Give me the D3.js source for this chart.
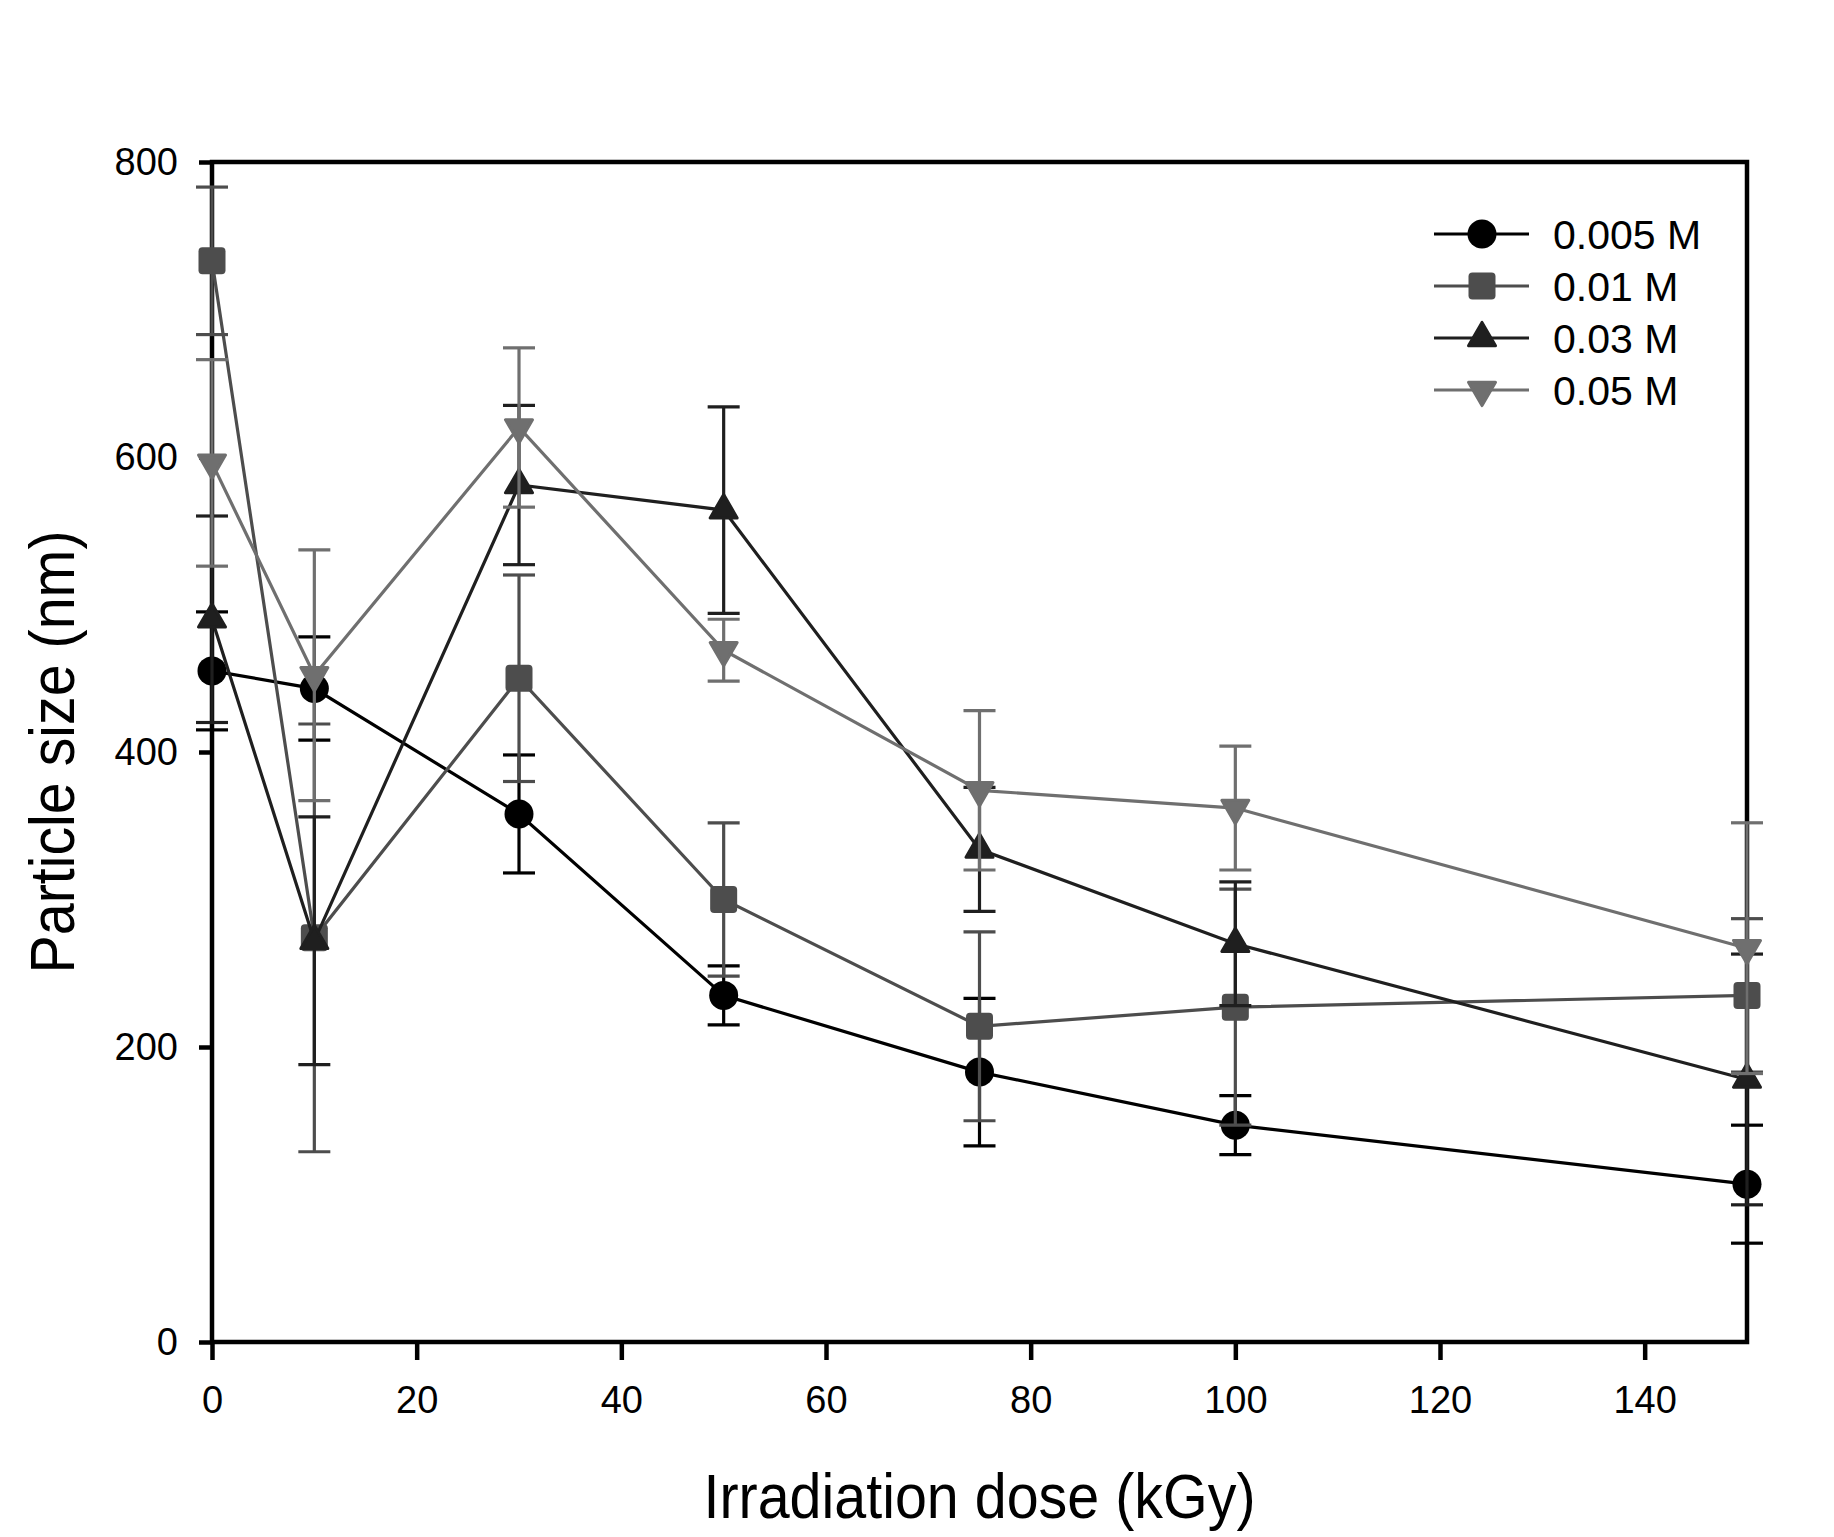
<!DOCTYPE html>
<html>
<head>
<meta charset="utf-8">
<script src="https://cdn.jsdelivr.net/npm/d3@7"></script>
<style>
  html, body { margin: 0; padding: 0; background: #ffffff; }
  svg { display: block; }
</style>
</head>
<body>
<svg id="chart" width="1834" height="1537"></svg>
<script>
// ---------- data ----------
const doses = [0, 10, 30, 50, 75, 100, 150];
const seriesNames = ["0.005 M", "0.01 M", "0.03 M", "0.05 M"];
const size005 = [455, 443, 358, 235, 183, 147, 107];
const err005  = [40, 35, 40, 20, 50, 20, 40];
const size01  = [733, 274, 450, 300, 214, 227, 235];
const err01   = [50, 145, 70, 52, 64, 80, 52];
const size03  = [490, 272, 581, 564, 334, 270, 178];
const err03   = [70, 84, 54, 70, 42, 42, 85];
const size05  = [596, 452, 620, 469, 374, 362, 267];
const err05   = [70, 85, 54, 21, 54, 42, 85];
const xTicks = [0, 20, 40, 60, 80, 100, 120, 140];
const yTicks = [0, 200, 400, 600, 800];

const seriesVals = [size005, size01, size03, size05];
const seriesErrs = [err005, err01, err03, err05];
const colors = ["#000000", "#4d4d4d", "#1f1f1f", "#6f6f6f"];
const shapes = ["circle", "square", "triUp", "triDown"];

// ---------- layout ----------
const FONT = "Arial, 'Liberation Sans', Helvetica, sans-serif";
const svg = d3.select("#chart");
svg.append("rect").attr("width", 1834).attr("height", 1537).attr("fill", "#fff");

const x = d3.scaleLinear().domain([0, 150]).range([212, 1747]);
const y = d3.scaleLinear().domain([0, 800]).range([1342, 162]);

// axes
const xAxis = d3.axisBottom(x).tickValues(xTicks).tickSize(18).tickPadding(26).tickFormat(d3.format("d"));
const yAxis = d3.axisLeft(y).tickValues(yTicks).tickSize(13).tickPadding(21).tickFormat(d3.format("d"));

const gx = svg.append("g").attr("transform", `translate(0,${y(0)})`).call(xAxis);
const gy = svg.append("g").attr("transform", `translate(${x(0)},0)`).call(yAxis);
[gx, gy].forEach(g => {
  g.select(".domain").remove();
  g.selectAll(".tick line").attr("stroke", "#000").attr("stroke-width", 4.5);
  g.selectAll(".tick text").attr("fill", "#000").style("font-family", FONT).style("font-size", "38px");
});

// frame
svg.append("rect")
  .attr("x", x(0)).attr("y", y(800))
  .attr("width", x(150) - x(0)).attr("height", y(0) - y(800))
  .attr("fill", "none").attr("stroke", "#000").attr("stroke-width", 4.5);

// axis titles
svg.append("text")
  .attr("x", (x(0) + x(150)) / 2).attr("y", 1518)
  .attr("text-anchor", "middle")
  .attr("textLength", 552).attr("lengthAdjust", "spacingAndGlyphs")
  .style("font-family", FONT).style("font-size", "63px").attr("fill", "#000")
  .text("Irradiation dose (kGy)");

svg.append("text")
  .attr("transform", `translate(74,${(y(0) + y(800)) / 2}) rotate(-90)`)
  .attr("text-anchor", "middle")
  .attr("textLength", 443).attr("lengthAdjust", "spacingAndGlyphs")
  .style("font-family", FONT).style("font-size", "63px").attr("fill", "#000")
  .text("Particle size (nm)");

// marker drawing
function drawMarker(g, shape, cx, cy, color) {
  if (shape === "circle") {
    g.append("circle").attr("cx", cx).attr("cy", cy).attr("r", 14.5).attr("fill", color);
  } else if (shape === "square") {
    g.append("rect").attr("x", cx - 13.5).attr("y", cy - 13.5).attr("width", 27).attr("height", 27)
      .attr("rx", 4).attr("fill", color);
  } else {
    const s = 27, h = s * Math.sqrt(3) / 2;
    const dir = shape === "triUp" ? 1 : -1;
    const pts = [[cx, cy - dir * 2 * h / 3], [cx - s / 2, cy + dir * h / 3], [cx + s / 2, cy + dir * h / 3]];
    g.append("path").attr("d", d3.line()(pts) + "Z")
      .attr("fill", color).attr("stroke", color).attr("stroke-width", 3).attr("stroke-linejoin", "round");
  }
}

// series
seriesVals.forEach((vals, si) => {
  const g = svg.append("g");
  const col = colors[si];
  const pts = doses.map((d, i) => [x(d), y(vals[i])]);
  g.append("path").attr("d", d3.line()(pts)).attr("fill", "none")
    .attr("stroke", col).attr("stroke-width", 3.2);
  const errs = seriesErrs[si];
  doses.forEach((d, i) => {
    const cx = x(d), hi = y(vals[i] + errs[i]), lo = y(vals[i] - errs[i]);
    g.append("line").attr("x1", cx).attr("x2", cx).attr("y1", hi).attr("y2", lo)
      .attr("stroke", col).attr("stroke-width", 3.2);
    [hi, lo].forEach(yy => {
      g.append("line").attr("x1", cx - 16).attr("x2", cx + 16).attr("y1", yy).attr("y2", yy)
        .attr("stroke", col).attr("stroke-width", 3.2);
    });
  });
  doses.forEach((d, i) => drawMarker(g, shapes[si], x(d), y(vals[i]), col));
});

// legend
const legRows = [234, 286, 338, 390];
const leg = svg.append("g");
seriesNames.forEach((name, si) => {
  const ry = legRows[si];
  leg.append("line").attr("x1", 1434).attr("x2", 1529).attr("y1", ry).attr("y2", ry)
    .attr("stroke", colors[si]).attr("stroke-width", 3);
  drawMarker(leg, shapes[si], 1482, ry, colors[si]);
  leg.append("text").attr("x", 1553).attr("y", ry + 14.5)
    .style("font-family", FONT).style("font-size", "41px").attr("fill", "#000")
    .text(name);
});
</script>
</body>
</html>
